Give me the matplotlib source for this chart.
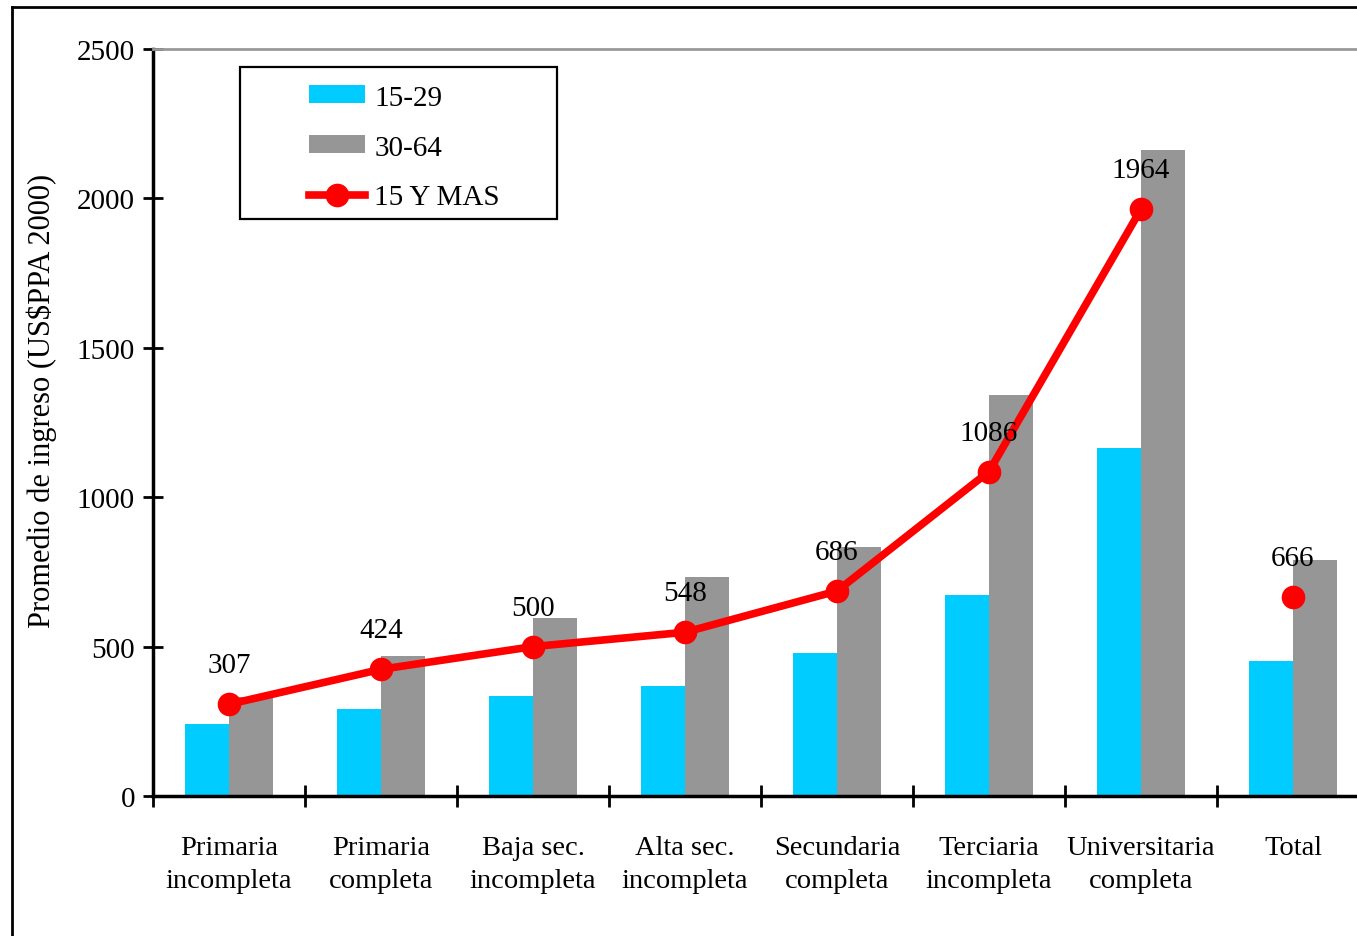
import matplotlib
matplotlib.use("Agg")
import matplotlib.pyplot as plt
from matplotlib.lines import Line2D
from matplotlib.patches import Rectangle
import numpy as np

plt.rcParams['font.family'] = ['Liberation Serif', 'DejaVu Serif']

categories = ["Primaria\nincompleta", "Primaria\ncompleta", "Baja sec.\nincompleta",
              "Alta sec.\nincompleta", "Secundaria\ncompleta", "Terciaria\nincompleta",
              "Universitaria\ncompleta", "Total"]
edad_15_29 = [241, 291, 335, 368, 479, 673, 1165, 452]
edad_30_64 = [331, 469, 596, 733, 833, 1342, 2162, 790]
edad_15_mas = [307, 424, 500, 548, 686, 1086, 1964, 666]

W, H = 1357, 937
fig = plt.figure(figsize=(W / 100, H / 100), dpi=100)
ax = fig.add_axes([153 / W, 1 - 797 / H, 1216 / W, 747 / H])

x = np.arange(len(categories))
bw = 0.29
b1 = ax.bar(x - bw / 2, edad_15_29, bw, color='#00CCFF', label='15-29', zorder=2)
b2 = ax.bar(x + bw / 2, edad_30_64, bw, color='#969696', label='30-64', zorder=2)

# line over the first 7 categories, Total as a lone point
n = len(categories) - 1
l1, = ax.plot(x[:n], edad_15_mas[:n], color='#FF0000', lw=5.5, marker='o', ms=16,
              label='15 Y MAS', zorder=3)
ax.plot(x[n], edad_15_mas[n], color='#FF0000', marker='o', ms=16, ls='none', zorder=3)
for xi, v in zip(x, edad_15_mas):
    ax.annotate(str(v), (xi, v), xytext=(0, 28), textcoords='offset points',
                ha='center', va='center', fontsize=21)

ax.set_xlim(-0.5, len(categories) - 0.5)
ax.set_ylim(0, 2500)
ax.set_yticks([0, 500, 1000, 1500, 2000, 2500])
ax.tick_params(axis='y', labelsize=21, direction='inout', length=14, width=2, pad=6)
ax.set_xticks(np.arange(-0.5, len(categories), 1.0))
ax.set_xticklabels([])
ax.tick_params(axis='x', direction='inout', length=16, width=2)
ax.set_xticks(x, minor=True)
ax.set_xticklabels(categories, minor=True, fontsize=20.5, linespacing=1.45)
ax.tick_params(axis='x', which='minor', length=0, pad=28)

ax.spines['left'].set_linewidth(2.5)
ax.spines['bottom'].set_linewidth(2.5)
ax.spines['top'].set_color('#999999')
ax.spines['top'].set_linewidth(2)
ax.spines['right'].set_visible(False)

ax.set_ylabel("Promedio de ingreso (US\\$PPA 2000)", fontsize=22)
ax.yaxis.set_label_coords(-0.079, 0.53)

leg = ax.legend([b1, b2, l1], ['15-29', '30-64', '15 Y MAS'],
                loc='upper left', bbox_to_anchor=(294 / W, 1 - 71 / H),
                bbox_transform=fig.transFigure, frameon=False, fontsize=21,
                handlelength=1.95, handleheight=0.55, handletextpad=0.3,
                labelspacing=0.82, borderpad=0)
fig.add_artist(Rectangle((240 / W, 1 - 220 / H), 317 / W, 152 / H,
                         transform=fig.transFigure, fill=False, ec='black', lw=1.6))

# outer frame (partly cropped)
fig.add_artist(Line2D([12 / W, 12 / W], [0, 1 - 8 / H], transform=fig.transFigure,
                      color='black', lw=2))
fig.add_artist(Line2D([12 / W, 1], [1 - 8 / H, 1 - 8 / H], transform=fig.transFigure,
                      color='black', lw=2))

fig.savefig("out.png", dpi=100)
